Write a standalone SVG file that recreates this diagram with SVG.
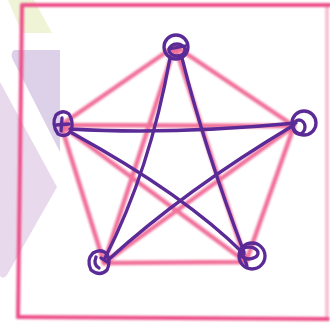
<svg xmlns="http://www.w3.org/2000/svg" width="330" height="324" viewBox="0 0 330 324">
<defs>
<filter id="soft" x="-5%" y="-5%" width="110%" height="110%"><feGaussianBlur stdDeviation="0.8"/></filter>
<style>
.bg{stroke:none}
.frame{fill:none;stroke:#ec4f88;stroke-width:4;stroke-linecap:round;stroke-linejoin:round}
.pink{fill:none;stroke:#f0608f;stroke-width:4.5;stroke-linecap:round;stroke-linejoin:round;opacity:0.9}
.ink{fill:none;stroke:#5a2a96;stroke-width:3.3;stroke-linecap:round;stroke-linejoin:round}
</style>
</defs>
<rect width="330" height="324" fill="#ffffff"/>
<g id="background">
<polygon class="bg" points="8,0 34,0 52,33 22,33" fill="#eff4d6"/>
<path class="bg" d="M14,50 L60,50 L60,152 L14,62 Q9,54 14,50 Z" fill="#dcd1e8"/>
<path class="bg" d="M0,82 L57,187 L7,275 Q3,280 0,276 Z" fill="#e9d9ec"/>
</g>
<g id="frame" filter="url(#soft)">
<path class="frame" d="M18,317 L22,5 L330,5"/>
<path class="frame" d="M18,317 L328,319"/>
<path class="frame" d="M327,5 L327,319" opacity="0.35"/>
</g>
<g id="pink-figure" filter="url(#soft)">
<polygon class="pink" points="175,46 294,126 246,262 104,263 61,125"/>
<path class="pink" d="M175,46 L104,263 M175,46 L246,262 M61,125 L294,126 M61,125 L246,262 M294,126 L104,263"/>
</g>
<g id="connectors">
<path class="ink" d="M70,129 Q170,135 296,123"/>
<path class="ink" d="M72,133 Q185,195 244,254"/>
<path class="ink" d="M105,258 Q150,170 170,58"/>
<path class="ink" d="M182,58 Q205,150 244,252"/>
<path class="ink" d="M108,260 Q185,190 294,125"/>
</g>
<g id="node-top">
<circle class="ink" cx="176" cy="47" r="12"/>
<ellipse class="ink" cx="177" cy="50" rx="8" ry="6"/>
<path class="ink" d="M169,49 L185,46"/>
</g>
<g id="node-left">
<path class="ink" d="M58,134 Q51,124 56,115 Q63,109 69,114 Q74,122 71,131 Q66,138 58,134 Z"/>
<path class="ink" d="M62,118 L61,131 M56,125 L69,124"/>
</g>
<g id="node-right">
<circle class="ink" cx="304" cy="123" r="12"/>
<ellipse class="ink" cx="299" cy="127" rx="6" ry="7"/>
</g>
<g id="node-bottom-right">
<circle class="ink" cx="252" cy="256" r="13"/>
<ellipse class="ink" cx="249" cy="253" rx="9" ry="6"/>
<path class="ink" d="M244,257 L247,266"/>
</g>
<g id="node-bottom-left">
<path class="ink" d="M91,270 Q86,260 93,253 Q101,248 107,254 Q111,262 107,270 Q100,277 91,270 Z"/>
<path class="ink" d="M96,257 Q93,265 99,268 M101,258 L107,262"/>
</g>
</svg>
